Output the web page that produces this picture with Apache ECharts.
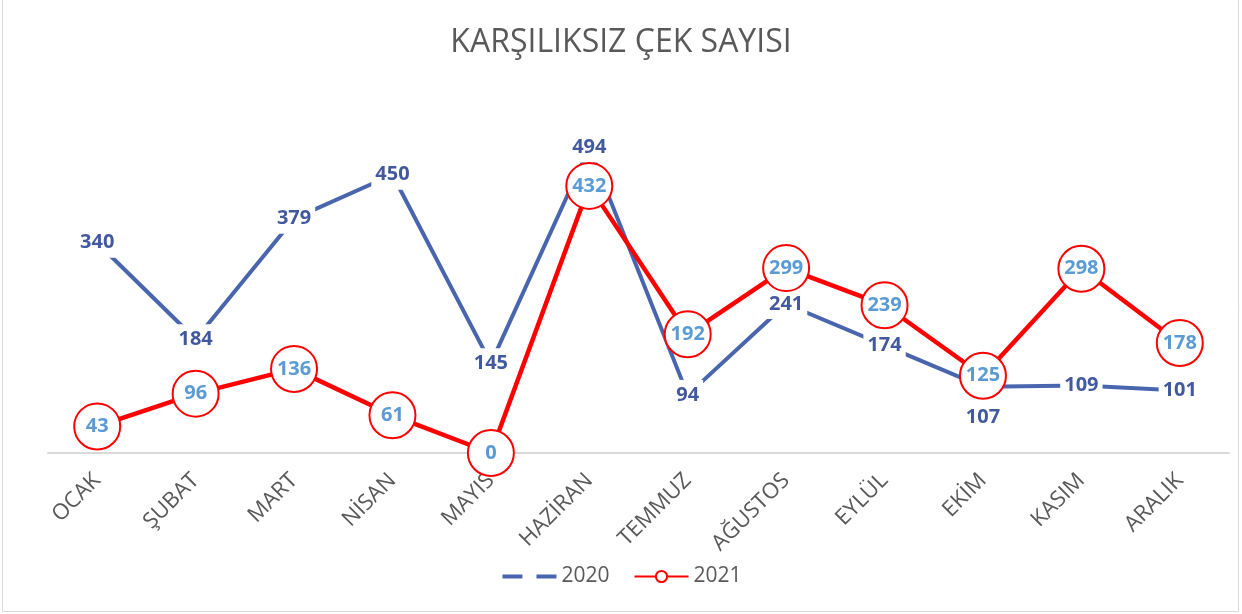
<!DOCTYPE html>
<html><head><meta charset="utf-8">
<script src="https://cdn.jsdelivr.net/npm/echarts@6/dist/echarts.min.js"></script>
<style>html,body{margin:0;padding:0;background:#fff}#c{width:1242px;height:614px}</style>
</head><body><div id="c"></div>
<script>
const categories = ['OCAK','ŞUBAT','MART','NİSAN','MAYIS','HAZİRAN','TEMMUZ','AĞUSTOS','EYLÜL','EKİM','KASIM','ARALIK'];
const values2020 = [340,184,379,450,145,494,94,241,174,107,109,101];
const values2021 = [43,96,136,61,0,432,192,299,239,125,298,178];
const seriesNames = ['2020','2021'];
const titleText = 'KARŞILIKSIZ ÇEK SAYISI';

const FONT = 'Open Sans';
const BLUE = '#4865ad';
const BLUE_LBL = '#43599f';
const RED = '#ff0000';

const chart = echarts.init(document.getElementById('c'), null, {renderer:'canvas'});
const data2020 = values2020.map((v,i) => i === 9 ? {value:v, label:{offset:[0,30], backgroundColor:'transparent'}} : v);
chart.setOption({
  animation:false,
  title:{text:titleText,left:'center',top:22,textStyle:{fontFamily:FONT,fontSize:32,fontWeight:'normal',color:'#595959'}},
  graphic:[{type:'rect',shape:{x:2.5,y:-2,width:1236,height:613.5},style:{fill:'none',stroke:'#d9d9d9',lineWidth:1},silent:true,z:-10}],
  legend:{
    bottom:22,left:'center',itemWidth:54,itemHeight:14,itemGap:24,
    textStyle:{fontFamily:FONT,fontSize:21,color:'#595959'},
    data:[
      {name:'2020',lineStyle:{type:[20,14],width:4,color:BLUE},itemStyle:{opacity:0}},
      {name:'2021'}
    ]
  },
  grid:{left:48,right:13,top:82,bottom:161},
  xAxis:{type:'category',data:categories,boundaryGap:true,
    axisLine:{lineStyle:{color:'#d9d9d9',width:2}},axisTick:{show:false},
    axisLabel:{rotate:45,margin:24,fontFamily:FONT,fontSize:22,color:'#595959'}},
  yAxis:{type:'value',min:0,max:600,show:false,splitLine:{show:false}},
  series:[
    {name:seriesNames[0],type:'line',data:data2020,symbol:'circle',symbolSize:1,z:2,
      itemStyle:{color:BLUE},lineStyle:{color:BLUE,width:4},
      label:{show:true,position:'inside',fontFamily:FONT,fontSize:20,fontWeight:'bold',color:BLUE_LBL,backgroundColor:'#fff',padding:[5,4]},
      emphasis:{disabled:true}},
    {name:seriesNames[1],type:'line',data:values2021,symbol:'circle',symbolSize:46,showAllSymbol:true,z:3,
      itemStyle:{color:'#fff',borderColor:RED,borderWidth:2},lineStyle:{color:RED,width:4.5},
      label:{show:true,position:'inside',fontFamily:FONT,fontSize:20,fontWeight:'bold',color:'#5b9bd5'},
      emphasis:{disabled:true}}
  ]
});
</script></body></html>
